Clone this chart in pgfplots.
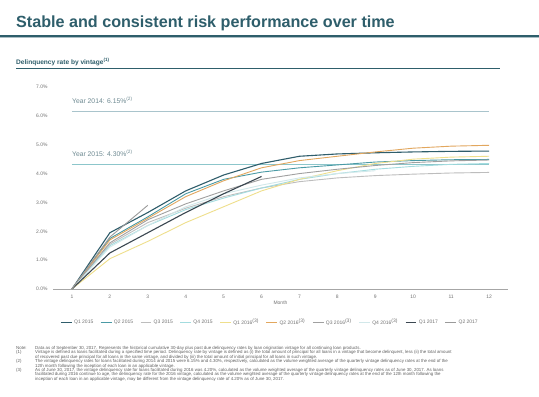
\documentclass[border=0pt]{standalone}
\usepackage{pgfplots}
\pgfplotsset{compat=1.18}
\usepackage{fontspec}
\setmainfont{Liberation Sans}
\definecolor{titleteal}{HTML}{2E5E6B}
\definecolor{cQa}{HTML}{2F5D6B}
\definecolor{cQb}{HTML}{4A9AA5}
\definecolor{cQc}{HTML}{BDBDBD}
\definecolor{cQd}{HTML}{A3DCDF}
\definecolor{cQe}{HTML}{EFDF8C}
\definecolor{cQf}{HTML}{E2A75E}
\definecolor{cQg}{HTML}{A0A0A0}
\definecolor{cQh}{HTML}{D2E8EA}
\definecolor{cQi}{HTML}{3B4751}
\definecolor{cQj}{HTML}{9A9A9A}
\definecolor{refa}{HTML}{A9C4CC}
\definecolor{refb}{HTML}{8CC6CB}
\definecolor{reftext}{HTML}{6E8A92}
\definecolor{foot}{HTML}{606060}
\begin{document}
\begin{tikzpicture}
\useasboundingbox (0bp,0bp) rectangle (539bp,397bp);
\fill[white] (0bp,0bp) rectangle (539bp,397bp);
\node[anchor=west, font=\fontsize{16.2}{18}\selectfont\bfseries, text=titleteal, inner sep=0] at (16bp,374bp) {Stable and consistent risk performance over time};
\draw[titleteal, line width=1.2bp] (0bp,361bp) -- (539bp,361bp);
\draw[titleteal!40, line width=0.6bp] (0bp,359.6bp) -- (539bp,359.6bp);
\node[anchor=west, font=\fontsize{6.6}{7.5}\selectfont\bfseries, text=titleteal, inner sep=0] at (16bp,335bp) {Delinquency rate by vintage\textsuperscript{(1)}};
\draw[titleteal, line width=0.9bp] (16bp,329bp) -- (500bp,329bp);
\begin{axis}[
  at={(53bp,108bp)}, anchor=south west, scale only axis,
  width=455bp, height=202bp,
  xmin=0.5, xmax=12.5, ymin=0, ymax=7,
  axis lines*=left,
  y axis line style={draw=none},
  x axis line style={draw=gray!70, line width=0.6bp},
  major tick length=0,
  xtick={1,...,12},
  ytick={0,1,...,7},
  yticklabel={\pgfmathprintnumber[fixed,fixed zerofill,precision=1]{\tick}\%},
  tick label style={font=\fontsize{5}{6}\selectfont, text=gray!90!black},
  yticklabel style={xshift=-2bp},
  xticklabel style={yshift=-3bp},
  /pgf/number format/assume math mode=true,
  xlabel={Month},
  xlabel style={font=\fontsize{5}{6}\selectfont, text=gray!90!black, yshift=5bp},
  legend style={at={(0.477,-0.168)}, anchor=center, legend columns=10, draw=none,
    font=\fontsize{5}{6}\selectfont, text=gray!90!black,
    /tikz/every even column/.append style={column sep=5bp}},
  legend image code/.code={\draw[#1] (0,0) -- (0.38cm,0);},
  every axis plot/.append style={line width=0.9bp},
  clip=false,
]
\addplot[refa, line width=1bp, forget plot] coordinates {(1,6.15) (12,6.15)};
\addplot[refb, line width=1bp, forget plot] coordinates {(1,4.30) (12,4.30)};
\node[anchor=south west, font=\fontsize{6.8}{7.5}\selectfont, text=reftext, inner sep=0] at (axis cs:1,6.42) {Year 2014: 6.15\%\textsuperscript{(2)}};
\node[anchor=south west, font=\fontsize{6.8}{7.5}\selectfont, text=reftext, inner sep=0] at (axis cs:1,4.57) {Year 2015: 4.30\%\textsuperscript{(2)}};
\addplot[cQa, line width=1.1bp] coordinates {(1,0) (2,1.95) (3,2.65) (4,3.4) (5,3.95) (6,4.35) (7,4.6) (8,4.68) (9,4.72) (10,4.75) (11,4.77) (12,4.78)};
\addlegendentry{Q1 2015}
\addplot[cQb] coordinates {(1,0) (2,1.75) (3,2.5) (4,3.3) (5,3.8) (6,4.05) (7,4.2) (8,4.3) (9,4.4) (10,4.45) (11,4.48) (12,4.49)};
\addlegendentry{Q2 2015}
\addplot[cQc] coordinates {(1,0) (2,1.55) (3,2.3) (4,2.8) (5,3.2) (6,3.5) (7,3.72) (8,3.85) (9,3.93) (10,3.98) (11,4.02) (12,4.04)};
\addlegendentry{Q3 2015}
\addplot[cQd] coordinates {(1,0) (2,1.5) (3,2.2) (4,2.75) (5,3.15) (6,3.5) (7,3.8) (8,4.0) (9,4.15) (10,4.25) (11,4.32) (12,4.35)};
\addlegendentry{Q4 2015}
\addplot[cQe] coordinates {(1,0) (2,1.05) (3,1.65) (4,2.3) (5,2.85) (6,3.4) (7,3.8) (8,4.1) (9,4.35) (10,4.5) (11,4.57) (12,4.6)};
\addlegendentry{Q1 2016\textsuperscript{(3)}}
\addplot[cQf] coordinates {(1,0) (2,1.7) (3,2.45) (4,3.2) (5,3.75) (6,4.2) (7,4.45) (8,4.6) (9,4.75) (10,4.88) (11,4.95) (12,4.98)};
\addlegendentry{Q2 2016\textsuperscript{(3)}}
\addplot[cQg] coordinates {(1,0) (2,1.6) (3,2.4) (4,2.95) (5,3.4) (6,3.8) (7,4.0) (8,4.15) (9,4.28) (10,4.38) (11,4.44) (12,4.47)};
\addlegendentry{Q3 2016\textsuperscript{(3)}}
\addplot[cQh] coordinates {(1,0) (2,1.45) (3,2.2) (4,2.85) (5,3.3) (6,3.6) (7,3.85) (8,4.0) (9,4.1)};
\addlegendentry{Q4 2016\textsuperscript{(3)}}
\addplot[cQi, line width=1.1bp] coordinates {(1,0) (2,1.25) (3,1.95) (4,2.65) (5,3.3) (6,3.9)};
\addlegendentry{Q1 2017}
\addplot[cQj] coordinates {(1,0) (2,1.8) (3,2.9)};
\addlegendentry{Q2 2017}
\end{axis}
\node[anchor=north west, font=\fontsize{4.4}{4.45}\selectfont, text=foot, inner sep=0, align=left] at (16bp,51bp) {Note:\\(1)\\ \\(2)\\ \\(3)};
\node[anchor=north west, font=\fontsize{4.4}{4.45}\selectfont, text=foot, inner sep=0, align=left] at (35bp,51bp) {%
Data as of September 30, 2017. Represents the historical cumulative 30-day plus past due delinquency rates by loan origination vintage for all continuing loan products.\\
Vintage is defined as loans facilitated during a specified time period. Delinquency rate by vintage is defined as (i) the total amount of principal for all loans in a vintage that become delinquent, less (ii) the total amount\\
of recovered past due principal for all loans in the same vintage, and divided by (iii) the total amount of initial principal for all loans in such vintage.\\
The vintage delinquency rates for loans facilitated during 2014 and 2015 were 6.15\% and 4.30\%, respectively, calculated as the volume weighted average of the quarterly vintage delinquency rates at the end of the\\
12th month following the inception of each loan in an applicable vintage.\\
As of June 30, 2017, the vintage delinquency rate for loans facilitated during 2016 was 4.20\%, calculated as the volume weighted average of the quarterly vintage delinquency rates as of June 30, 2017. As loans\\
facilitated during 2016 continue to age, the delinquency rate for the 2016 vintage, calculated as the volume weighted average of the quarterly vintage delinquency rates at the end of the 12th month following the\\
inception of each loan in an applicable vintage, may be different from the vintage delinquency rate of 4.20\% as of June 30, 2017.};
\end{tikzpicture}
\end{document}
